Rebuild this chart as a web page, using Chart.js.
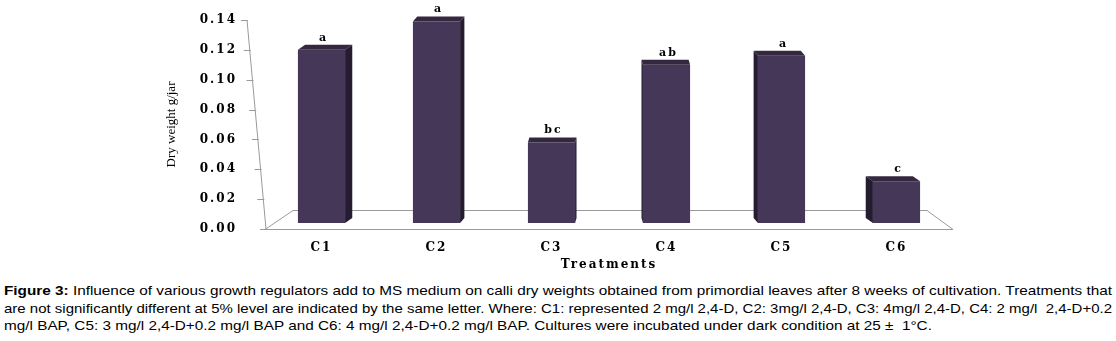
<!DOCTYPE html>
<html>
<head>
<meta charset="utf-8">
<title>Dry weight by treatment</title>
<script src="https://cdn.jsdelivr.net/npm/chart.js@4.4.1/dist/chart.umd.min.js"></script>
<style>
  html, body { margin: 0; padding: 0; background: #fff; }
  #wrap { position: relative; width: 1116px; height: 272px; }
  #caption {
    position: absolute; left: 4px; top: 282px;
    font: 13px "Liberation Sans", Arial, sans-serif;
    line-height: 17.5px; color: #000;
  }
  #caption .ln { display: block; width: max-content; white-space: nowrap; transform-origin: 0 0; }
</style>
</head>
<body>
<div id="wrap"><canvas id="chart"></canvas></div>
<div id="caption">
  <span class="ln" data-fit="1108"><b>Figure 3:</b> Influence of various growth regulators add to MS medium on calli dry weights obtained from primordial leaves after 8 weeks of cultivation. Treatments that</span>
  <span class="ln" data-fit="1108">are not significantly different at 5% level are indicated by the same letter. Where: C1: represented 2 mg/l 2,4-D, C2: 3mg/l 2,4-D, C3: 4mg/l 2,4-D, C4: 2 mg/l&nbsp; 2,4-D+0.2</span>
  <span class="ln">mg/l BAP, C5: 3 mg/l 2,4-D+0.2 mg/l BAP and C6: 4 mg/l 2,4-D+0.2 mg/l BAP. Cultures were incubated under dark condition at 25 ±&nbsp; 1°C.</span>
</div>
<script>
(function () {
  "use strict";

  // data
  const TREATMENTS = ["C1", "C2", "C3", "C4", "C5", "C6"];
  const DRY_WEIGHT = [0.120, 0.139, 0.058, 0.110, 0.116, 0.032];
  const LETTERS = ["a", "a", "bc", "ab", "a", "c"];
  const Y_MAX = 0.14;
  const Y_STEP = 0.02;

  const SERIF = '"DejaVu Serif", "Liberation Serif", serif';
  const BAR_FRONT = "#453757";
  const BAR_SIDE = "#251c31";
  const BAR_TOP = "#33283f";
  const LINE_GREY = "#9a9a9a";
  const DEPTH_Y = 5;

  // caption: the source text is stretched sideways; justified lines fill the full width
  document.querySelectorAll("#caption .ln").forEach((el) => {
    const w = el.getBoundingClientRect().width;
    const target = el.dataset.fit ? Number(el.dataset.fit) : null;
    const k = target ? target / w : 1.178;
    el.style.transform = "scaleX(" + k + ")";
  });

  // fake perspective: bars left of centre show their right side, and the other way round
  function depthX(cx, area) {
    const mid = (area.left + area.right) / 2;
    return -(cx - mid) * 0.025;
  }

  function poly(ctx, pts) {
    ctx.beginPath();
    ctx.moveTo(pts[0][0], pts[0][1]);
    for (let i = 1; i < pts.length; i++) ctx.lineTo(pts[i][0], pts[i][1]);
    ctx.closePath();
    ctx.fill();
  }

  const look3d = {
    id: "look3d",
    beforeDraw(chart) {
      const ys = chart.scales.y;
      if (ys && !ys._plainTitle) {
        const orig = ys.drawTitle;
        ys.drawTitle = function () {
          const c = this.ctx;
          const keep = c.letterSpacing;
          c.letterSpacing = "0px";
          orig.call(this);
          c.letterSpacing = keep;
        };
        ys._plainTitle = true;
      }
      chart.ctx.letterSpacing = "2px";
    },
    beforeDatasetsDraw(chart) {
      const { ctx, chartArea: a, scales: { y } } = chart;
      ctx.save();
      ctx.strokeStyle = LINE_GREY;
      ctx.lineWidth = 1;

      // floor
      const fb = a.bottom + 0.5;
      const bb = a.bottom - 18.5;
      ctx.beginPath();
      ctx.moveTo(a.left + 1, fb);
      ctx.lineTo(a.right - 1, fb);
      ctx.lineTo(a.right - 27, bb);
      ctx.lineTo(a.left + 29, bb);
      ctx.closePath();
      ctx.stroke();

      // slanted value axis with tick marks
      const x0 = a.left - 17, x1 = a.left + 2;
      const xAt = (py) => x0 + (x1 - x0) * (py - a.top) / (a.bottom - a.top);
      ctx.beginPath();
      ctx.moveTo(x0, a.top);
      ctx.lineTo(x1, a.bottom);
      y.ticks.forEach((t) => {
        const py = Math.round(y.getPixelForValue(t.value)) + 0.5;
        const px = xAt(py);
        ctx.moveTo(px - 6, py);
        ctx.lineTo(px + 1, py);
      });
      ctx.stroke();
      ctx.restore();
    },
    afterDatasetsDraw(chart) {
      const { ctx, chartArea: a } = chart;
      const meta = chart.getDatasetMeta(0);
      ctx.save();
      meta.data.forEach((bar, i) => {
        const { x, y, base, width } = bar.getProps(["x", "y", "base", "width"], true);
        const l = x - width / 2, r = x + width / 2;
        const dx = depthX(x, a), dy = DEPTH_Y;
        ctx.fillStyle = BAR_TOP;
        poly(ctx, [[l, y], [r, y], [r + dx, y - dy], [l + dx, y - dy]]);
        const sx = dx >= 0 ? r : l;
        ctx.fillStyle = BAR_SIDE;
        poly(ctx, [[sx, y], [sx + dx, y - dy], [sx + dx, base - dy], [sx, base]]);

        ctx.fillStyle = "#000";
        ctx.font = "bold 11px " + SERIF;
        ctx.textAlign = "center";
        ctx.textBaseline = "middle";
        ctx.fillText(LETTERS[i], x + 2, y - dy - 7);
      });
      ctx.restore();
    },
    afterDraw(chart) {
      chart.ctx.letterSpacing = "0px";
    },
  };

  new Chart(document.getElementById("chart"), {
    type: "bar",
    data: {
      labels: TREATMENTS,
      datasets: [{
        data: DRY_WEIGHT,
        backgroundColor: BAR_FRONT,
        borderWidth: 0,
        barPercentage: 0.41,
        categoryPercentage: 1,
        base: 0.004,
      }],
    },
    options: {
      responsive: true,
      maintainAspectRatio: false,
      animation: false,
      layout: { padding: { top: 20, left: 155, right: 162, bottom: 0 } },
      plugins: { legend: { display: false }, tooltip: { enabled: false } },
      scales: {
        x: {
          grid: { display: false },
          border: { display: false },
          ticks: { color: "#000", padding: 4, font: { family: SERIF, size: 12, weight: "bold" } },
          title: {
            display: true, text: "Treatments", color: "#000",
            font: { family: SERIF, size: 12, weight: "bold" },
            padding: { top: 0, bottom: 0 },
          },
          afterFit(s) { s.height = 43; },
        },
        y: {
          min: 0,
          max: Y_MAX,
          grid: { display: false },
          border: { display: false },
          ticks: {
            stepSize: Y_STEP,
            color: "#000",
            padding: 19,
            font: { family: SERIF, size: 12, weight: "bold" },
            callback: (v) => Number(v).toFixed(2),
          },
          title: {
            display: true, text: "Dry weight g/jar", color: "#000",
            font: { family: '"Liberation Serif", serif', size: 13 },
            padding: { top: 9, bottom: 0 },
          },
          afterFit(s) {
            s.width = 109;
            // tick padding would otherwise push the plot top down to ~26px
            s.paddingTop = 7;
            s.paddingBottom = 7;
          },
        },
      },
    },
    plugins: [look3d],
  });
})();
</script>
</body>
</html>
